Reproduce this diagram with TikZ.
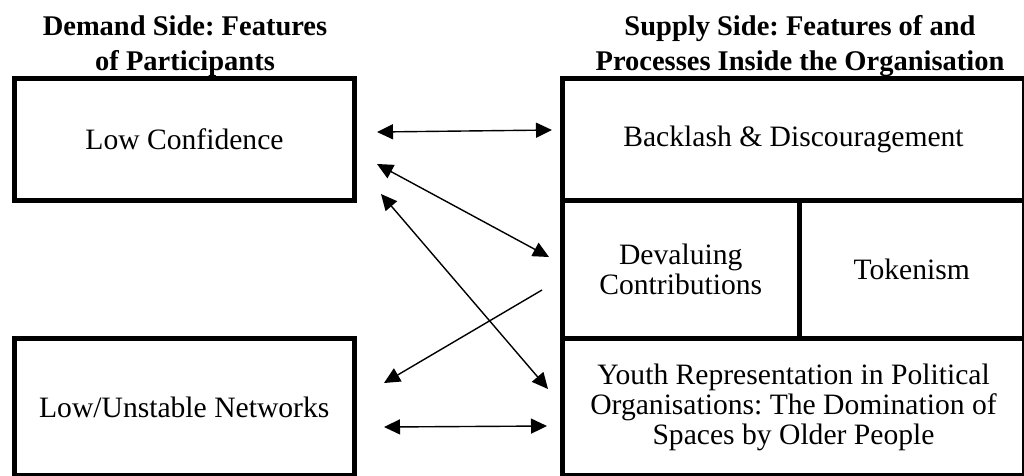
\documentclass[tikz,border=0pt]{standalone}
\usepackage{fontspec}
\setmainfont{Liberation Serif}
\usetikzlibrary{arrows.meta}
\frenchspacing
\begin{document}
\begin{tikzpicture}[x=1pt,y=-1pt,
  cell/.style={draw=black, line width=5pt, inner sep=0pt, align=center,
    font=\fontsize{29.6}{30}\selectfont},
  header/.style={inner sep=0pt, align=center, anchor=south,
    font=\bfseries\fontsize{28.5}{35}\selectfont},
  link/.style={line width=1.4pt, draw=black},
  tipe/.tip={Triangle[length=16pt,width=15pt]}
]
\useasboundingbox (0,0) rectangle (1024,475);
\clip (0,0) rectangle (1024,475);

% headers
\node[header] (hdemand) at (185,77) {Demand Side: Features\\of Participants};
\node[header] (hsupply) at (800,77) {Supply Side: Features of and\\Processes Inside the Organisation};

% demand side boxes
\node[cell, minimum width=340pt, minimum height=122pt] (lc) at (184.5,139) {Low Confidence};
\node[cell, minimum width=340.5pt, minimum height=137pt] (lu) at (184.25,407) {Low/Unstable Networks};

% supply side boxes
\node[cell, minimum width=462pt, minimum height=122.5pt] (bd) at (793.5,139.25) {Backlash \& Discouragement};
\node[cell, minimum width=236.5pt, minimum height=138pt] (dc) at (680.75,269.5) {Devaluing\\Contributions};
\node[cell, minimum width=225.5pt, minimum height=138pt] (tk) at (911.75,269.5) {Tokenism};
\node[cell, minimum width=462pt, minimum height=137pt] (yr) at (793.5,407) {Youth Representation in Political\\Organisations: The Domination of\\Spaces by Older People};

% connector end points
\coordinate (a1l) at (377,132);
\coordinate (a1r) at (552,130);
\coordinate (a2l) at (377,164);
\coordinate (a2r) at (549,257);
\coordinate (a3l) at (381,194);
\coordinate (a3r) at (548,389);
\coordinate (a4s) at (542,290);
\coordinate (a4e) at (384,383);
\coordinate (a5l) at (384,427);
\coordinate (a5r) at (547,426);

\draw[link, tipe-tipe] (a1l) -- (a1r);
\draw[link, tipe-tipe] (a2l) -- (a2r);
\draw[link, tipe-tipe] (a3l) -- (a3r);
\draw[link, -tipe] (a4s) -- (a4e);
\draw[link, tipe-tipe] (a5l) -- (a5r);
\end{tikzpicture}
\end{document}
